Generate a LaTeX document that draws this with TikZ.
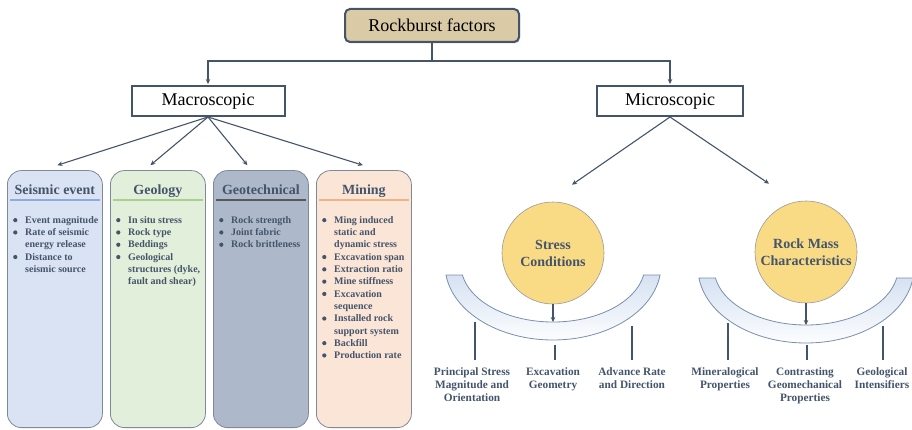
\documentclass[tikz,border=0pt]{standalone}
\usepackage{fontspec}
\setmainfont{Liberation Serif}
\usepackage{xcolor}
\usepackage{tikz}
\usetikzlibrary{arrows.meta, positioning, calc, shadows}

\definecolor{slate}{HTML}{44546A}
\definecolor{boxedge}{HTML}{7F8A99}
\definecolor{fillseis}{HTML}{DAE3F3}
\definecolor{lineseis}{HTML}{8FAADC}
\definecolor{fillgeo}{HTML}{E2EFDA}
\definecolor{linegeo}{HTML}{A9D18E}
\definecolor{filltech}{HTML}{ADB9CA}
\definecolor{linetech}{HTML}{595959}
\definecolor{fillmine}{HTML}{FBE5D6}
\definecolor{linemine}{HTML}{F4B183}
\definecolor{rockfill}{HTML}{DACBA6}
\definecolor{circfill}{HTML}{FADB85}
\definecolor{bandtop}{HTML}{D6E2F2}
\definecolor{bandmid}{HTML}{A4BFE1}
\definecolor{bandedge}{HTML}{7A8FAD}

\newcommand{\bul}{\makebox[12pt][l]{\tikz[baseline=-3.2pt]\fill[slate] (2.2pt,0) circle (2.1pt);}}
\newcommand{\cont}{\hspace*{12pt}}

\begin{document}
\begin{tikzpicture}[x=1pt, y=1pt,
  conn/.style={draw=slate, line width=1.1pt},
  arr/.style={conn, -{Stealth[length=5pt, width=4.5pt]}},
  level/.style={draw=slate, line width=2pt, fill=white, minimum height=30pt, font=\fontsize{18}{20}\selectfont},
  factor/.style={draw=boxedge, line width=0.8pt, rounded corners=14pt, minimum width=95pt, minimum height=257pt, anchor=south west},
  head/.style={font=\fontsize{14}{16}\selectfont\bfseries, text=slate, inner sep=0pt, anchor=base},
  items/.style={font=\fontsize{10}{12.3}\selectfont\bfseries, text=slate, align=left, inner sep=0pt, anchor=north west},
  uline/.style={line width=2pt},
  circ/.style={circle, draw=gray!80, line width=0.6pt, fill=circfill, minimum size=102pt, inner sep=0pt, align=center, font=\fontsize{14}{17}\selectfont\bfseries, text=slate},
  band/.style={draw=bandedge, line width=0.8pt, top color=bandtop, middle color=bandmid, bottom color=white},
  sub/.style={align=center, font=\fontsize{11.3}{13}\selectfont\bfseries, text=slate, anchor=north, inner sep=3pt}
]
  \useasboundingbox (0,0) rectangle (912,429);

  % Top levels
  \node[level, rounded corners=5pt, fill=rockfill, minimum width=174pt, minimum height=33pt,
        drop shadow={shadow xshift=1pt, shadow yshift=-1.5pt, opacity=0.35}] (rock) at (432,403.5) {Rockburst factors};
  \node[level, minimum width=153pt] (macro) at (208,328) {Macroscopic};
  \node[level, minimum width=146pt] (micro) at (670,328) {Microscopic};

  \draw[arr, shorten >=1pt] (rock.south) -- ++(0,-18) -| (macro.north);
  \draw[arr, shorten >=1pt] (rock.south) -- ++(0,-18) -| (micro.north);

  % Macroscopic factor boxes
  \foreach \nm/\x/\ttl in {seis/7/Seismic event, geo/110/Geology, tech/213/Geotechnical, mine/316/Mining} {
    \node[factor, fill=fill\nm] (\nm) at (\x,1) {};
    \node[head] (\nm head) at ([yshift=-24]\nm.north) {\ttl};
    \draw[uline, line\nm] ([shift={(3,-30)}]\nm.north west) -- ([shift={(-3,-30)}]\nm.north east);
  }

  \node[items] (seisitems) at ([shift={(6,-46)}]seis.north west)
    {\bul Event magnitude\\ \bul Rate of seismic\\ \cont energy release\\ \bul Distance to\\ \cont seismic source};
  \node[items] (geoitems) at ([shift={(6,-46)}]geo.north west)
    {\bul In situ stress\\ \bul Rock type\\ \bul Beddings\\ \bul Geological\\ \cont structures (dyke,\\ \cont fault and shear)};
  \node[items] (techitems) at ([shift={(6,-46)}]tech.north west)
    {\bul Rock strength\\ \bul Joint fabric\\ \bul Rock brittleness};
  \node[items] (mineitems) at ([shift={(6,-46)}]mine.north west)
    {\bul Ming induced\\ \cont static and\\ \cont dynamic stress\\ \bul Excavation span\\ \bul Extraction ratio\\ \bul Mine stiffness\\ \bul Excavation\\ \cont sequence\\ \bul Installed rock\\ \cont support system\\ \bul Backfill\\ \bul Production rate};

  \draw[arr] (macro.south) -- ([shift={(2.5,5)}]seis.north);
  \draw[arr] (macro.south) -- ([shift={(-7.5,5)}]geo.north);
  \draw[arr] (macro.south) -- ([shift={(-13.5,5)}]tech.north);
  \draw[arr] (macro.south) -- ([shift={(-1,5)}]mine.north);

  % Microscopic: bands
  \coordinate (sc) at (553,164);
  \coordinate (rc) at (806,161);
  \foreach \c in {sc, rc} {
    \path[band] ([shift={(187.7:108 and 75)}]\c) arc[start angle=187.7, end angle=352.3, x radius=108, y radius=75]
      -- ([shift={(349.9:92 and 57)}]\c) arc[start angle=349.9, end angle=190.1, x radius=92, y radius=57] -- cycle;
  }

  \node[circ] (stress) at (553,176) {Stress\\Conditions};
  \node[circ] (rmass) at (806,177) {Rock Mass\\Characteristics};
  \draw[arr] (micro.south) -- ([shift={(19,17)}]stress.north);
  \draw[arr] (micro.south) -- ([shift={(-37,17)}]rmass.north);

  \coordinate (sin) at (553,107);
  \coordinate (rin) at (806,104);
  \draw[arr] (stress.south) -- (sin);
  \draw[arr] (rmass.south) -- (rin);

  % Sub labels
  \node[sub] (pstress) at (472,65) {Principal Stress\\Magnitude and\\Orientation};
  \node[sub] (exgeom) at (553,65) {Excavation\\Geometry};
  \node[sub] (advrate) at (632,65) {Advance Rate\\and Direction};
  \node[sub] (mineral) at (725,65) {Mineralogical\\Properties};
  \node[sub] (contrast) at (805,65) {Contrasting\\Geomechanical\\Properties};
  \node[sub] (geoint) at (882,65) {Geological\\Intensifiers};

  \coordinate (s1) at (475,107);
  \coordinate (s2) at (555,84);
  \coordinate (s3) at (632,103);
  \coordinate (s4) at (728,106);
  \coordinate (s5) at (807,84);
  \coordinate (s6) at (883,103);
  \draw[conn, line width=1.6pt, shorten >=4pt] (s1) -- (s1 |- pstress.north);
  \draw[conn, line width=1.6pt, shorten >=4pt] (s2) -- (s2 |- exgeom.north);
  \draw[conn, line width=1.6pt, shorten >=4pt] (s3) -- (s3 |- advrate.north);
  \draw[conn, line width=1.6pt, shorten >=4pt] (s4) -- (s4 |- mineral.north);
  \draw[conn, line width=1.6pt, shorten >=4pt] (s5) -- (s5 |- contrast.north);
  \draw[conn, line width=1.6pt, shorten >=4pt] (s6) -- (s6 |- geoint.north);
\end{tikzpicture}
\end{document}
